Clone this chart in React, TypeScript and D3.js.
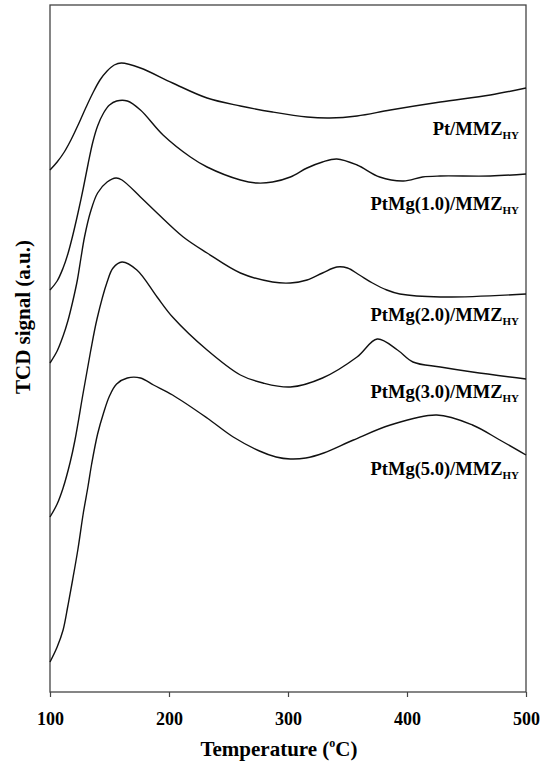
import React, { useEffect, useRef } from 'react';
import * as d3 from 'd3';

// TPR profiles, temperature (oC) vs TCD signal (a.u.), curves offset vertically
const ptMMZ: [number, number][] = [
  [100, 522], [106, 530], [112, 540], [118, 553], [124, 568], [130, 584], [136, 599], [142, 612],
  [148, 621], [154, 627], [160, 629], [176, 624], [203, 609], [232, 594], [260, 586], [287, 580],
  [316, 575], [335, 574], [358, 576], [386, 582], [428, 590], [470, 597], [500, 604]
];
const ptMg10: [number, number][] = [
  [100, 402], [106, 411], [111, 424], [115, 438], [119, 456], [123.5, 479], [128, 504], [132, 528],
  [136, 550], [140, 566], [145, 579], [150, 587], [156, 591], [165, 591], [176, 582], [195, 557],
  [218, 535], [232, 525], [260, 512], [274, 509], [287, 510], [302, 515], [316, 524], [329, 530],
  [341, 533], [358, 527], [377, 515], [397, 511], [413, 515], [428, 516], [470, 516], [500, 518]
];
const ptMg20: [number, number][] = [
  [100, 329], [106, 341], [111, 356], [115, 371], [119, 390], [123, 412], [126, 434], [129, 455],
  [134, 480], [140, 499], [148, 510], [155.5, 514], [160.5, 512], [176, 495], [190, 479], [212, 455],
  [232, 439], [260, 419], [287, 410], [302, 409], [316, 412], [329, 419], [341, 425], [350, 424],
  [360, 417], [371, 409], [383, 402], [394, 398], [428, 395], [500, 398]
];
const ptMg30: [number, number][] = [
  [100, 175], [106, 188], [111, 204], [117, 230], [121, 252], [128, 300], [134, 340], [139.5, 373],
  [148, 410], [153, 424], [160.5, 430], [173, 422], [190, 395], [203, 375], [232, 342], [260, 317],
  [279, 309], [302, 305], [329, 314], [358, 335], [375, 353], [392, 342], [405, 330], [428, 325],
  [455, 320], [500, 313]
];
const ptMg50: [number, number][] = [
  [100, 30], [106, 45], [111, 62], [115, 86], [119, 112], [123.5, 143], [128, 179], [132, 206],
  [135, 228], [140, 258], [145, 279], [150, 296], [156, 308], [165, 314], [176, 314], [187, 307],
  [203, 297], [232, 274], [254, 255], [276, 241], [290, 235], [302, 233], [315, 234], [330, 239],
  [355, 252], [386, 267], [425, 277], [455, 267], [478, 252], [500, 237]
];

const series = [ptMMZ, ptMg10, ptMg20, ptMg30, ptMg50];
const seriesNames = ['Pt/MMZ', 'PtMg(1.0)/MMZ', 'PtMg(2.0)/MMZ', 'PtMg(3.0)/MMZ', 'PtMg(5.0)/MMZ'];
const labelSignal = [557, 482, 371, 294, 217];
const xTicks = [100, 200, 300, 400, 500];

const W = 541, H = 764;
const left = 50, right = 526, top = 5, bottom = 692;
const FONT = '"Liberation Serif", "Times New Roman", serif';

const App = () => {
  const xAxisRef = useRef<SVGGElement>(null);

  const x = d3.scaleLinear().domain([100, 500]).range([left, right]);
  const y = d3.scaleLinear().domain([0, 687]).range([bottom, top]);

  const line = d3
    .line<[number, number]>()
    .x(d => x(d[0]))
    .y(d => y(d[1]))
    .curve(d3.curveCatmullRom.alpha(0.5));

  useEffect(() => {
    const g = d3.select(xAxisRef.current);
    g.selectAll('*').remove();
    g.call(d3.axisBottom(x).tickValues(xTicks).tickSize(5).tickSizeOuter(0).tickFormat(d3.format('d')));
    g.select('.domain').remove();
    g.selectAll('.tick line').attr('stroke', '#444').attr('stroke-width', 1.2);
    g.selectAll('.tick text')
      .attr('y', 33)
      .attr('dy', 0)
      .style('font-family', FONT)
      .style('font-size', '18px')
      .style('font-weight', 'bold')
      .attr('fill', '#000');
  }, []);

  return (
    <svg width={W} height={H} style={{ position: 'absolute', left: 0, top: 0, background: '#fff' }}>
      <rect x={left} y={top} width={right - left} height={bottom - top} fill="none" stroke="#444" strokeWidth={1.3} />
      <g ref={xAxisRef} transform={`translate(0,${bottom})`} />
      {series.map((s, i) => (
        <path key={i} d={line(s) || ''} fill="none" stroke="#111" strokeWidth={1.4} />
      ))}
      {seriesNames.map((n, i) => (
        <text
          key={n}
          x={519}
          y={y(labelSignal[i])}
          textAnchor="end"
          fontFamily={FONT}
          fontWeight="bold"
          fontSize={18.5}
        >
          {n}
          <tspan fontSize={11} dy={4}>HY</tspan>
        </text>
      ))}
      <text x={279} y={756} textAnchor="middle" fontFamily={FONT} fontWeight="bold" fontSize={21}>
        Temperature (<tspan fontSize={12} dy={-9}>o</tspan>
        <tspan dy={9}>C)</tspan>
      </text>
      <text
        transform={`translate(30,317) rotate(-90)`}
        textAnchor="middle"
        fontFamily={FONT}
        fontWeight="bold"
        fontSize={21}
      >
        TCD signal (a.u.)
      </text>
    </svg>
  );
};

export default App;
